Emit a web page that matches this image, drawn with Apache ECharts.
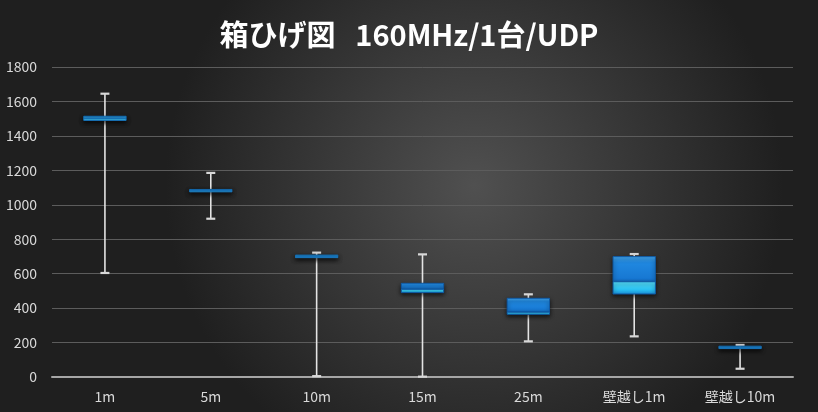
<!DOCTYPE html>
<html>
<head>
<meta charset="utf-8">
<script src="https://cdn.jsdelivr.net/npm/echarts@6/dist/echarts.min.js"></script>
<style>html,body{margin:0;padding:0;background:#2a2a2a}#c{width:818px;height:412px}</style>
</head>
<body>
<div id="c"></div>
<script>
const titleText = '箱ひげ図   160MHz/1台/UDP';
const categories = ['1m', '5m', '10m', '15m', '25m', '壁越し1m', '壁越し10m'];
const mins    = [604, 919, 5, 2, 207, 236, 48];
const q1s     = [1490, 1078, 695, 490, 364, 482, 168];
const medians = [1500, 1082, 700, 509, 376, 553, 172];
const q3s     = [1514, 1088, 708, 544, 457, 699, 176];
const maxs    = [1645, 1185, 722, 712, 480, 714, 186];
const yTicks  = { min: 0, max: 1800, interval: 200 };

const rows = categories.map((c, i) => [i, mins[i], q1s[i], medians[i], q3s[i], maxs[i]]);

const chart = echarts.init(document.getElementById('c'));
const font = '"Noto Sans CJK JP", "Noto Sans", sans-serif';

function renderItem(params, api) {
  const i = api.value(0);
  const bw = api.size([1, 0])[0] * 0.4;
  const x = api.coord([i, 0])[0];
  const yMin = api.coord([i, api.value(1)])[1];
  const yQ1 = api.coord([i, api.value(2)])[1];
  const yMed = api.coord([i, api.value(3)])[1];
  const yQ3 = api.coord([i, api.value(4)])[1];
  const yMax = api.coord([i, api.value(5)])[1];
  const capW = 9;
  const wStyle = { stroke: '#e4e4e4', lineWidth: 1.6 };
  const capStyle = { stroke: '#d8d8d8', lineWidth: 2.2 };
  const upperH = Math.max(yMed - yQ3, 1.2);
  const lowerH = Math.max(yQ1 - yMed, 1.2);
  const thin = (yQ1 - yQ3) < 6;
  return {
    type: 'group',
    children: [
      { type: 'line', shape: { x1: x, y1: yMax, x2: x, y2: yMin }, style: wStyle },
      { type: 'line', shape: { x1: x - capW / 2, y1: yMax, x2: x + capW / 2, y2: yMax }, style: capStyle },
      { type: 'line', shape: { x1: x - capW / 2, y1: yMin, x2: x + capW / 2, y2: yMin }, style: capStyle },
      {
        type: 'rect',
        shape: { x: x - bw / 2, y: yMed - upperH, width: bw, height: upperH },
        style: {
          fill: thin ? '#2a9ee6' : new echarts.graphic.LinearGradient(0, 0, 0, 1, [
            { offset: 0, color: '#46acf4' }, { offset: 0.25, color: '#2088e0' }, { offset: 1, color: '#1574cf' }
          ]),
          stroke: thin ? '#1570b8' : '#0f5aa6', lineWidth: 1,
          shadowBlur: 4, shadowColor: 'rgba(0,0,0,0.6)', shadowOffsetY: 2
        }
      },
      {
        type: 'rect',
        shape: { x: x - bw / 2, y: yMed, width: bw, height: lowerH },
        style: {
          fill: thin ? '#44c8f2' : new echarts.graphic.LinearGradient(0, 0, 0, 1, [
            { offset: 0, color: '#5ae4ff' }, { offset: 0.6, color: '#2cc4f4' }, { offset: 1, color: '#1a90dc' }
          ]),
          stroke: thin ? '#1570b8' : '#0f5aa6', lineWidth: 1,
          shadowBlur: 4, shadowColor: 'rgba(0,0,0,0.6)', shadowOffsetY: 2
        }
      }
    ]
  };
}

chart.setOption({
  animation: false,
  backgroundColor: {
    type: 'radial', x: 0.58, y: 0.45, r: 0.75,
    colorStops: [{ offset: 0, color: '#505050' }, { offset: 1, color: '#1f1f1f' }]
  },
  title: {
    text: titleText, left: 'center', top: 15,
    textStyle: { color: '#ffffff', fontSize: 29, fontWeight: 'bold', fontFamily: font }
  },
  grid: { left: 52, right: 25, top: 67, bottom: 35 },
  xAxis: {
    type: 'category', data: categories, boundaryGap: true,
    axisLine: { lineStyle: { color: '#a6a6a6', width: 2 } },
    axisTick: { show: false },
    axisLabel: { color: '#d9d9d9', fontSize: 14, fontFamily: font, margin: 13 }
  },
  yAxis: {
    type: 'value', min: yTicks.min, max: yTicks.max, interval: yTicks.interval,
    axisLine: { show: false }, axisTick: { show: false },
    splitLine: { lineStyle: { color: '#5c5c5c', width: 1 } },
    axisLabel: { color: '#d9d9d9', fontSize: 14, fontFamily: font, margin: 15, formatter: v => String(v) }
  },
  series: [{
    type: 'custom',
    renderItem: renderItem,
    encode: { x: 0, y: [1, 2, 3, 4, 5] },
    data: rows
  }]
});
</script>
</body>
</html>
